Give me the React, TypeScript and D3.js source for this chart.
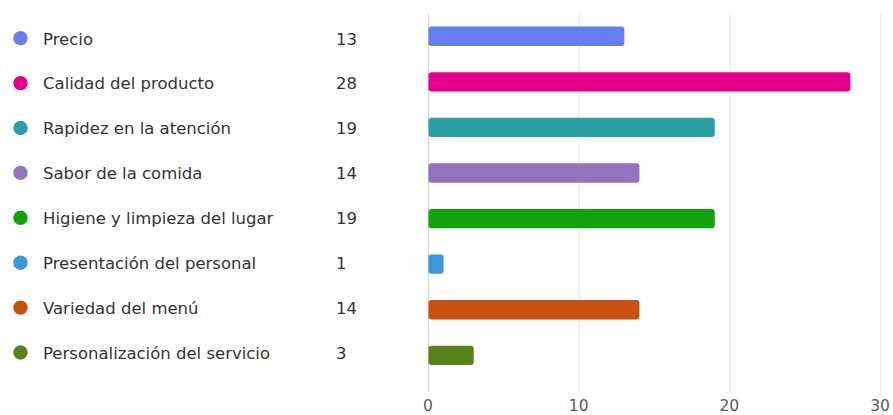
import React from "react";
import * as d3 from "d3";

const categories = [
  "Precio",
  "Calidad del producto",
  "Rapidez en la atención",
  "Sabor de la comida",
  "Higiene y limpieza del lugar",
  "Presentación del personal",
  "Variedad del menú",
  "Personalización del servicio",
];
const values = [13, 28, 19, 14, 19, 1, 14, 3];
const colors = ["#647EEE", "#E3008C", "#2AA0A4", "#9373C0", "#13A10E", "#3A96DD", "#CA5010", "#57811B"];
const tickValues = [0, 10, 20, 30];

const W = 893;
const H = 415;
const FONT = "'DejaVu Sans', 'Open Sans', sans-serif";

export default function App() {
  const x = d3.scaleLinear().domain([0, 30]).range([428, 880]);
  const y = d3.scaleBand().domain(categories).range([13.4, 378.2]).paddingInner(0.577).paddingOuter(0.29);
  const ly = d3.scalePoint().domain(categories).range([38.2, 352.5]);
  const bw = y.bandwidth();
  return (
    <svg width={W} height={H} style={{ position: "absolute", left: 0, top: 0, background: "#fff" }}>
      {tickValues.map((t) => (
        <line key={t} x1={x(t) + 0.5} x2={x(t) + 0.5} y1={14} y2={392} stroke={t === 0 ? "#d2d2d2" : "#e6e6e6"} strokeWidth={1} />
      ))}
      {tickValues.map((t) => (
        <text key={"t" + t} x={x(t)} y={411} textAnchor="middle" fontFamily={FONT} fontSize={15.5} fill="#5a5a5a">
          {t}
        </text>
      ))}
      {categories.map((c, i) => {
        const cy = ly(c) as number;
        return (
          <g key={c}>
            <circle cx={20.5} cy={cy} r={7.2} fill={colors[i]} />
            <text x={43} y={cy + 6.3} fontFamily={FONT} fontSize={16.5} fill="#333">
              {c}
            </text>
            <text x={336} y={cy + 6.3} fontFamily={FONT} fontSize={16.5} fill="#333">
              {values[i]}
            </text>
            <rect x={x(0) + 0.5} y={y(c)} width={x(values[i]) - x(0)} height={bw} rx={3} fill={colors[i]} />
          </g>
        );
      })}
    </svg>
  );
}
